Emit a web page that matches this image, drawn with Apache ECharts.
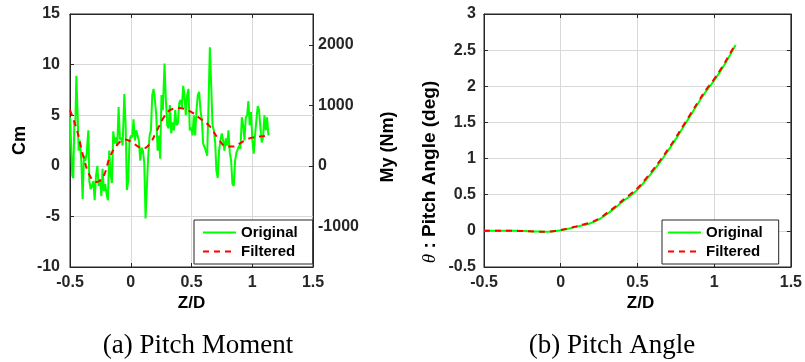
<!DOCTYPE html>
<html>
<head>
<meta charset="utf-8">
<script src="https://cdn.jsdelivr.net/npm/echarts@6/dist/echarts.min.js"></script>
<style>html,body{margin:0;padding:0;background:#fff;}#c{width:805px;height:362px;}</style>
</head>
<body>
<div id="c"></div>
<script>
// ---- Data (a) Pitch Moment ----
var zOrigA = [-0.5,-0.492,-0.481,-0.473,-0.464,-0.456,-0.448,-0.437,-0.429,-0.418,-0.407,-0.396,-0.385,-0.374,-0.363,-0.349,-0.341,-0.330,-0.319,-0.308,-0.297,-0.286,-0.275,-0.264,-0.253,-0.242,-0.232,-0.221,-0.210,-0.199,-0.188,-0.177,-0.166,-0.155,-0.144,-0.133,-0.122,-0.111,-0.100,-0.089,-0.078,-0.067,-0.053,-0.042,-0.032,-0.021,-0.010,0.001,0.012,0.023,0.034,0.045,0.056,0.067,0.078,0.089,0.100,0.111,0.122,0.133,0.144,0.155,0.166,0.177,0.188,0.199,0.210,0.221,0.232,0.242,0.253,0.264,0.278,0.289,0.300,0.311,0.322,0.333,0.344,0.355,0.366,0.377,0.388,0.399,0.410,0.421,0.432,0.442,0.453,0.464,0.475,0.486,0.497,0.508,0.519,0.530,0.541,0.552,0.563,0.574,0.585,0.596,0.607,0.618,0.629,0.640,0.651,0.662,0.673,0.684,0.695,0.705,0.716,0.727,0.738,0.749,0.760,0.771,0.782,0.793,0.804,0.815,0.826,0.837,0.848,0.859,0.870,0.881,0.892,0.903,0.914,0.925,0.936,0.947,0.958,0.968,0.979,0.990,1.001,1.012,1.023,1.034,1.045,1.056,1.067,1.078,1.089,1.100,1.111,1.122,1.133];
var cmOrig = [4.8,2.5,-1.0,-1.2,4.5,4.0,8.9,5.0,1.5,2.5,0.5,-3.3,1.0,0.5,1.2,3.5,-1.5,-2.3,-2.0,-1.5,-3.4,-1.0,0.0,-2.0,-1.3,-3.0,-0.3,-2.5,-1.8,-2.8,-3.4,1.5,-0.8,-1.7,3.4,2.2,2.8,2.0,5.8,2.6,2.8,2.0,7.1,4.0,-2.4,-1.5,2.5,3.0,2.8,4.6,2.5,3.5,3.0,2.5,0.5,1.8,1.5,0.3,-5.2,-2.0,1.0,3.0,3.5,7.0,7.6,6.5,5.0,1.5,3.0,0.7,7.0,5.5,10.1,6.5,4.0,3.7,6.0,3.2,4.3,3.5,5.5,4.0,4.2,6.2,6.5,5.8,7.9,7.0,5.0,7.0,7.6,3.5,3.8,3.0,5.0,3.0,5.5,7.0,7.3,5.5,4.5,2.2,2.3,1.5,1.0,6.0,11.7,8.0,4.0,3.5,2.3,-0.5,-1.2,1.5,2.5,3.2,2.5,1.5,2.7,2.0,3.5,1.3,0.5,-1.8,-2.0,0.5,1.3,1.3,2.0,1.7,4.8,4.0,2.5,4.8,5.0,6.4,4.0,5.3,2.5,1.2,3.0,4.5,5.9,5.5,3.8,2.3,2.8,5.0,3.5,4.8,3.0];
var zFiltA = [-0.5,-0.445,-0.39,-0.336,-0.281,-0.226,-0.171,-0.103,-0.048,0.0,0.062,0.103,0.158,0.212,0.267,0.322,0.404,0.486,0.568,0.651,0.719,0.788,0.842,0.897,0.952,1.007,1.062,1.116,1.133];
var cmFilt = [5.5,3.6,0.9,-1.0,-1.6,-1.1,0.9,2.2,2.6,2.4,1.9,1.7,2.2,3.4,4.7,5.5,5.7,5.4,4.7,3.9,2.7,1.9,1.9,2.2,2.6,2.8,2.9,2.95,2.97];
var myTicks = [-1000, 0, 1000, 2000];
var myPerCm = 167.3;

// ---- Data (b) Pitch Angle ----
var zB = [-0.5,-0.45,-0.4,-0.35,-0.3,-0.25,-0.2,-0.15,-0.1,-0.05,0,0.05,0.1,0.15,0.2,0.25,0.3,0.35,0.4,0.45,0.5,0.55,0.6,0.65,0.7,0.75,0.8,0.85,0.9,0.95,1.0,1.05,1.1,1.14];
var thetaOrig = [0,0,0,0,0,-0.002,-0.005,-0.01,-0.012,-0.005,0.01,0.03,0.055,0.08,0.11,0.16,0.23,0.31,0.40,0.48,0.57,0.69,0.82,0.96,1.11,1.27,1.44,1.61,1.78,1.94,2.08,2.24,2.42,2.57];
var thetaFilt = [0,0,0,0,0,-0.002,-0.005,-0.01,-0.012,-0.004,0.012,0.035,0.06,0.09,0.12,0.17,0.245,0.325,0.415,0.5,0.59,0.71,0.84,0.98,1.13,1.29,1.46,1.63,1.8,1.96,2.1,2.26,2.44,2.59];

var xTicks = [-0.5, 0, 0.5, 1, 1.5];

function zip(a, b) { return a.map(function (v, i) { return [v, b[i]]; }); }

var AX = '#262626', GRID = '#d8d8d8', GREEN = '#00ff00', RED = '#ff0000';
var tickFont = { fontFamily: 'Liberation Sans', fontWeight: 'bold', fontSize: 16, color: AX };

function xAx(gi, pos, show) {
  return {
    type: 'value', gridIndex: gi, position: pos, min: -0.5, max: 1.5, interval: 0.5,
    axisLine: { show: true, onZero: false, lineStyle: { color: AX, width: 1 } },
    axisTick: { show: true, inside: true, length: 4, lineStyle: { color: AX } },
    axisLabel: Object.assign({ show: show, margin: 8, formatter: function (v) { return String(v); } }, tickFont),
    splitLine: { show: show, lineStyle: { color: GRID, width: 1 } }
  };
}

function legendAt(left, pad) {
  return {
    left: left, orient: 'vertical', top: 220, data: ['Original', 'Filtered'],
    backgroundColor: '#fff', borderColor: AX, borderWidth: 1, borderRadius: 0,
    padding: pad, itemWidth: 33, itemHeight: 14, itemGap: 4,
    itemStyle: { opacity: 0, borderWidth: 0 },
    textStyle: { fontFamily: 'Liberation Sans', fontWeight: 'bold', fontSize: 15, color: '#000' }
  };
}

var option = {
  backgroundColor: '#fff',
  animation: false,
  grid: [
    { left: 70, top: 14, width: 243, height: 253, show: true, borderColor: AX, borderWidth: 1, backgroundColor: 'transparent' },
    { left: 484, top: 14, width: 313, height: 253, show: true, borderColor: AX, borderWidth: 1, backgroundColor: 'transparent' }
  ],
  xAxis: [xAx(0, 'bottom', true), xAx(0, 'top', false), xAx(1, 'bottom', true), xAx(1, 'top', false)],
  yAxis: [
    { type: 'value', gridIndex: 0, position: 'left', min: -10, max: 15, interval: 5,
      axisLine: { show: true, onZero: false, lineStyle: { color: AX } },
      axisTick: { show: true, inside: true, length: 4, lineStyle: { color: AX } },
      axisLabel: Object.assign({ margin: 10 }, tickFont),
      splitLine: { show: true, lineStyle: { color: GRID } } },
    { type: 'value', gridIndex: 0, position: 'right', min: -10 * myPerCm, max: 15 * myPerCm,
      axisLine: { show: true, onZero: false, lineStyle: { color: AX } },
      axisTick: { show: true, inside: true, length: 4, lineStyle: { color: AX }, customValues: myTicks },
      axisLabel: Object.assign({ margin: 5, customValues: myTicks, formatter: function (v) { return String(Math.round(v)); } }, tickFont),
      splitLine: { show: false } },
    { type: 'value', gridIndex: 1, position: 'left', min: -0.5, max: 3, interval: 0.5,
      axisLine: { show: true, onZero: false, lineStyle: { color: AX } },
      axisTick: { show: true, inside: true, length: 4, lineStyle: { color: AX } },
      axisLabel: Object.assign({ margin: 8 }, tickFont),
      splitLine: { show: true, lineStyle: { color: GRID } } },
    { type: 'value', gridIndex: 1, position: 'right', min: -0.5, max: 3, interval: 0.5,
      axisLine: { show: true, onZero: false, lineStyle: { color: AX } },
      axisTick: { show: true, inside: true, length: 4, lineStyle: { color: AX } },
      axisLabel: { show: false }, splitLine: { show: false } }
  ],
  legend: [legendAt(194, [5, 15, 5, 8]), legendAt(662, [5, 16, 5, 5])],
  series: [
    { name: 'Original', type: 'line', xAxisIndex: 0, yAxisIndex: 0, data: zip(zOrigA, cmOrig), symbol: 'none', lineStyle: { color: GREEN, width: 2 }, itemStyle: { color: GREEN } },
    { name: 'Filtered', type: 'line', xAxisIndex: 0, yAxisIndex: 0, data: zip(zFiltA, cmFilt), smooth: 0.4, symbol: 'none', lineStyle: { color: RED, width: 2, type: [6, 5] }, itemStyle: { color: RED } },
    { name: 'Original', type: 'line', xAxisIndex: 2, yAxisIndex: 2, data: zip(zB, thetaOrig), smooth: true, symbol: 'none', lineStyle: { color: GREEN, width: 2 }, itemStyle: { color: GREEN } },
    { name: 'Filtered', type: 'line', xAxisIndex: 2, yAxisIndex: 2, data: zip(zB, thetaFilt), smooth: true, symbol: 'none', lineStyle: { color: RED, width: 2, type: [6, 5] }, itemStyle: { color: RED } }
  ],
  graphic: [
    { type: 'text', x: 20, y: 140.5, rotation: Math.PI / 2, style: { text: 'Cm', font: 'bold 18px "Liberation Sans"', fill: '#000', textAlign: 'center', textVerticalAlign: 'middle' } },
    { type: 'text', x: 388, y: 147, rotation: Math.PI / 2, style: { text: 'My (Nm)', font: 'bold 18px "Liberation Sans"', fill: '#000', textAlign: 'center', textVerticalAlign: 'middle' } },
    { type: 'text', x: 430, y: 172, rotation: Math.PI / 2, style: { text: '{t|θ} : Pitch Angle (deg)', fontFamily: 'Liberation Sans', fontWeight: 'bold', fontSize: 19, fill: '#000', textAlign: 'center', textVerticalAlign: 'middle',
      rich: { t: { fontFamily: 'Liberation Serif', fontStyle: 'italic', fontWeight: 'normal', fontSize: 19, fill: '#000' } } } },
    { type: 'text', x: 191.5, y: 303, style: { text: 'Z/D', font: 'bold 17px "Liberation Sans"', fill: '#000', textAlign: 'center', textVerticalAlign: 'middle' } },
    { type: 'text', x: 640.5, y: 303, style: { text: 'Z/D', font: 'bold 17px "Liberation Sans"', fill: '#000', textAlign: 'center', textVerticalAlign: 'middle' } },
    { type: 'text', x: 198, y: 346, style: { text: '(a) Pitch Moment', font: '27px "Liberation Serif"', fill: '#000', textAlign: 'center', textVerticalAlign: 'middle' } },
    { type: 'text', x: 612, y: 346, style: { text: '(b) Pitch Angle', font: '27px "Liberation Serif"', fill: '#000', textAlign: 'center', textVerticalAlign: 'middle' } }
  ]
};

var chart = echarts.init(document.getElementById('c'), null, { renderer: 'canvas' });
chart.setOption(option);
</script>
</body>
</html>
